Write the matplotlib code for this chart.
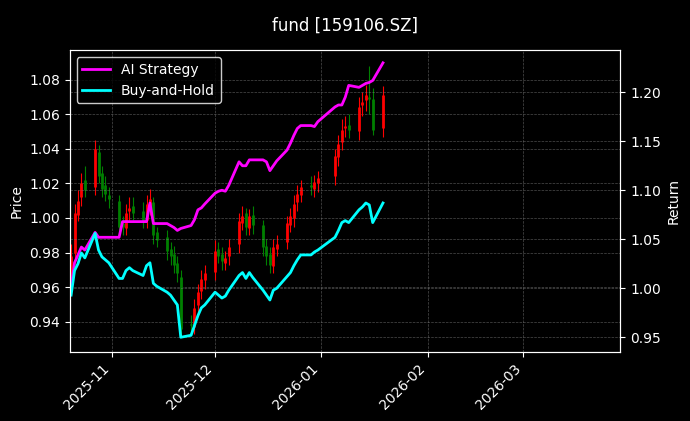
import numpy as np
import pandas as pd
import matplotlib
matplotlib.use("Agg")
import matplotlib.pyplot as plt
import matplotlib.dates as mdates

dates = pd.bdate_range("2025-10-20", "2026-01-19")
dates = dates[(dates != "2026-01-01") & (dates != "2026-01-02")]

opens = [0.965, 0.980, 1.002, 1.012, 1.022, 1.018, 1.038, 1.026, 1.019, 1.013,
         1.010, 0.997, 0.994, 1.004, 1.007, 1.004, 0.999, 1.006, 1.009, 0.992,
         0.989, 0.982, 0.979, 0.974, 0.966, 0.939, 0.937, 0.950, 0.958, 0.964,
         0.969, 0.982, 0.979, 0.974, 0.978, 0.985, 0.997, 1.003, 0.994, 1.002,
         0.996, 0.984, 0.979, 0.972, 0.982, 0.986, 0.996, 1.000, 1.009, 1.013,
         1.019, 1.017, 1.020, 1.024, 1.035, 1.044, 1.052, 1.054, 1.050, 1.065,
         1.068, 1.070, 1.069, 1.052]
closes = [0.978, 1.003, 1.010, 1.020, 1.016, 1.040, 1.024, 1.017, 1.014, 1.011,
          0.995, 0.995, 1.003, 1.006, 1.003, 0.998, 1.008, 1.011, 0.990, 0.987,
          0.981, 0.978, 0.973, 0.968, 0.936, 0.938, 0.948, 0.957, 0.965, 0.968,
          0.981, 0.978, 0.975, 0.977, 0.983, 0.998, 1.001, 0.995, 1.001, 0.996,
          0.983, 0.978, 0.973, 0.983, 0.985, 0.997, 1.001, 1.008, 1.014, 1.018,
          1.018, 1.021, 1.023, 1.036, 1.043, 1.051, 1.053, 1.051, 1.064, 1.067,
          1.071, 1.069, 1.051, 1.071]
highs = [0.985, 1.008, 1.016, 1.026, 1.030, 1.045, 1.042, 1.030, 1.024, 1.018,
         1.013, 1.001, 1.008, 1.012, 1.012, 1.009, 1.013, 1.017, 1.012, 0.995,
         0.993, 0.986, 0.984, 0.978, 0.970, 0.944, 0.953, 0.962, 0.970, 0.973,
         0.987, 0.986, 0.983, 0.981, 0.988, 1.003, 1.007, 1.006, 1.005, 1.007,
         0.999, 0.988, 0.983, 0.988, 0.990, 1.001, 1.006, 1.013, 1.019, 1.022,
         1.024, 1.025, 1.027, 1.040, 1.048, 1.057, 1.059, 1.060, 1.070, 1.073,
         1.077, 1.088, 1.075, 1.076]
lows = [0.958, 0.975, 0.998, 1.007, 1.012, 1.013, 1.020, 1.012, 1.010, 1.006,
        0.990, 0.990, 0.990, 0.999, 0.999, 0.994, 0.994, 1.002, 0.985, 0.983,
        0.976, 0.973, 0.968, 0.963, 0.932, 0.933, 0.933, 0.945, 0.953, 0.959,
        0.964, 0.974, 0.970, 0.970, 0.973, 0.980, 0.993, 0.990, 0.990, 0.991,
        0.978, 0.973, 0.968, 0.968, 0.978, 0.982, 0.992, 0.995, 1.004, 1.009,
        1.013, 1.012, 1.015, 1.019, 1.030, 1.039, 1.047, 1.046, 1.045, 1.059,
        1.062, 1.060, 1.048, 1.047]

ai_strategy = [1.001, 1.026, 1.034, 1.042, 1.039, 1.057, 1.052, 1.052, 1.052, 1.052,
               1.052, 1.068, 1.068, 1.068, 1.068, 1.068, 1.068, 1.087, 1.066, 1.066,
               1.066, 1.064, 1.062, 1.059, 1.061, 1.064, 1.070, 1.080, 1.082, 1.086,
               1.097, 1.099, 1.100, 1.099, 1.105, 1.129, 1.125, 1.125, 1.131, 1.131,
               1.131, 1.129, 1.120, 1.125, 1.130, 1.141, 1.148, 1.156, 1.163, 1.166,
               1.166, 1.165, 1.170, 1.185, 1.187, 1.187, 1.195, 1.207, 1.205, 1.207,
               1.209, 1.210, 1.212, 1.230]
buy_hold = [0.993, 1.018, 1.025, 1.036, 1.031, 1.056, 1.039, 1.032, 1.029, 1.026,
            1.010, 1.010, 1.018, 1.021, 1.018, 1.013, 1.023, 1.026, 1.005, 1.002,
            0.996, 0.993, 0.988, 0.983, 0.950, 0.952, 0.962, 0.972, 0.980, 0.983,
            0.996, 0.993, 0.990, 0.992, 0.998, 1.013, 1.016, 1.010, 1.016, 1.011,
            0.998, 0.993, 0.988, 0.998, 1.000, 1.012, 1.016, 1.023, 1.029, 1.034,
            1.034, 1.037, 1.039, 1.052, 1.059, 1.067, 1.069, 1.067, 1.080, 1.083,
            1.087, 1.085, 1.067, 1.087]

plt.style.use("dark_background")
fig = plt.figure(figsize=(6.9, 4.21), dpi=100)
ax = fig.add_axes([0.101, 0.164, 0.798, 0.717])
ax2 = ax.twinx()

o, c, h, l = map(np.array, (opens, closes, highs, lows))
colors = np.where(c >= o, "red", "green")
ax.vlines(dates, l, h, colors=colors, linewidth=0.8)
ax.vlines(dates, np.minimum(o, c), np.maximum(o, c), colors=colors, linewidth=2)

ax2.plot(dates, ai_strategy, color="magenta", linewidth=2, label="AI Strategy")
ax2.plot(dates, buy_hold, color="cyan", linewidth=2, label="Buy-and-Hold")

ax.set_ylim(0.9226, 1.097)
ax2.set_ylim(0.935, 1.243)
ax.set_xlim(pd.Timestamp("2025-10-19 14:00"), pd.Timestamp("2026-03-29 06:00"))
ax.set_ylabel("Price")
ax2.set_ylabel("Return")
ax.xaxis.set_major_locator(mdates.MonthLocator())
ax.xaxis.set_major_formatter(mdates.DateFormatter("%Y-%m"))
plt.setp(ax.get_xticklabels(), rotation=45, ha="right")
ax.grid(True, linestyle="--", linewidth=0.5, color="gray", alpha=0.6)
ax2.grid(True, linestyle="--", linewidth=0.5, color="gray", alpha=0.6)

leg = ax2.legend(loc="upper left", facecolor="black", edgecolor="white")
fig.suptitle("fund [159106.SZ]", y=0.96)

fig.savefig("out.png", dpi=100)
